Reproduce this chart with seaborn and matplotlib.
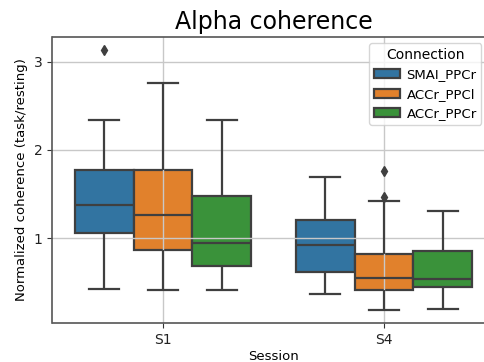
import matplotlib
matplotlib.use("Agg")
import matplotlib.pyplot as plt
import seaborn as sns
import pandas as pd

sessions = ["S1", "S4"]
connections = ["SMAI_PPCr", "ACCr_PPCl", "ACCr_PPCr"]

# five-number summaries: [low whisker, q1, median, q3, high whisker]
s1_smai = [0.42, 1.056, 1.38, 1.776, 2.337]
s1_accl = [0.41, 0.861, 1.26, 1.776, 2.755]
s1_accr = [0.41, 0.680, 0.947, 1.482, 2.337]
s4_smai = [0.36, 0.616, 0.917, 1.200, 1.693]
s4_accl = [0.183, 0.409, 0.544, 0.815, 1.415]
s4_accr = [0.20, 0.439, 0.533, 0.853, 1.305]

# outliers
s1_smai_out = [3.13]
s4_accl_out = [1.463, 1.757]

groups = [
    ("S1", "SMAI_PPCr", s1_smai, s1_smai_out),
    ("S1", "ACCr_PPCl", s1_accl, []),
    ("S1", "ACCr_PPCr", s1_accr, []),
    ("S4", "SMAI_PPCr", s4_smai, []),
    ("S4", "ACCr_PPCl", s4_accl, s4_accl_out),
    ("S4", "ACCr_PPCr", s4_accr, []),
]

rows = []
for sess, conn, (lo, q1, med, q3, hi), outs in groups:
    sample = [lo] + [q1] * 3 + [med] * 3 + [q3] * 3 + [hi] + list(outs)
    for v in sample:
        rows.append({"Session": sess, "Connection": conn, "value": v})
df = pd.DataFrame(rows)

plt.rcParams["font.family"] = ["DejaVu Sans"]
fig = plt.figure(figsize=(4.85, 3.62), dpi=100)
ax = fig.add_axes([52.5 / 485, 1 - 323 / 362, (494.5 - 52.5) / 485, (323 - 37) / 362])

palette = ["#1f77b4", "#ff7f0e", "#2ca02c"]
sns.boxplot(data=df, x="Session", y="value", hue="Connection", order=sessions,
            hue_order=connections, palette=palette, saturation=0.75, ax=ax,
            linewidth=1.6, linecolor="#3f3f3f", width=0.8,
            flierprops=dict(marker="d", markerfacecolor="#3f3f3f",
                            markeredgecolor="#3f3f3f", markersize=5.5))

for p in ax.patches:
    p.set_zorder(1)

ax.set_ylim(0.036, 3.28)
ax.set_xlim(-0.5, 1.5)
ax.set_yticks([1, 2, 3])
ax.set_axisbelow("line")
ax.grid(True, color="#c8c8c8", linewidth=1.0)
for sp in ax.spines.values():
    sp.set_color("#555555")
    sp.set_linewidth(1.2)
ax.tick_params(labelsize=10, colors="#333333", labelcolor="#222222")
ax.set_title("Alpha coherence", fontsize=17, pad=6)
ax.set_xlabel("Session", fontsize=9.5, labelpad=2)
ax.set_ylabel("Normalized coherence (task/resting)", fontsize=9.5)

leg = ax.legend(title="Connection", loc="upper left", fontsize=9.5, title_fontsize=10,
                bbox_to_anchor=(0.716, 0.979), borderaxespad=0.0,
                handletextpad=0.5, borderpad=0.35)

fig.savefig("out.png", dpi=100)
